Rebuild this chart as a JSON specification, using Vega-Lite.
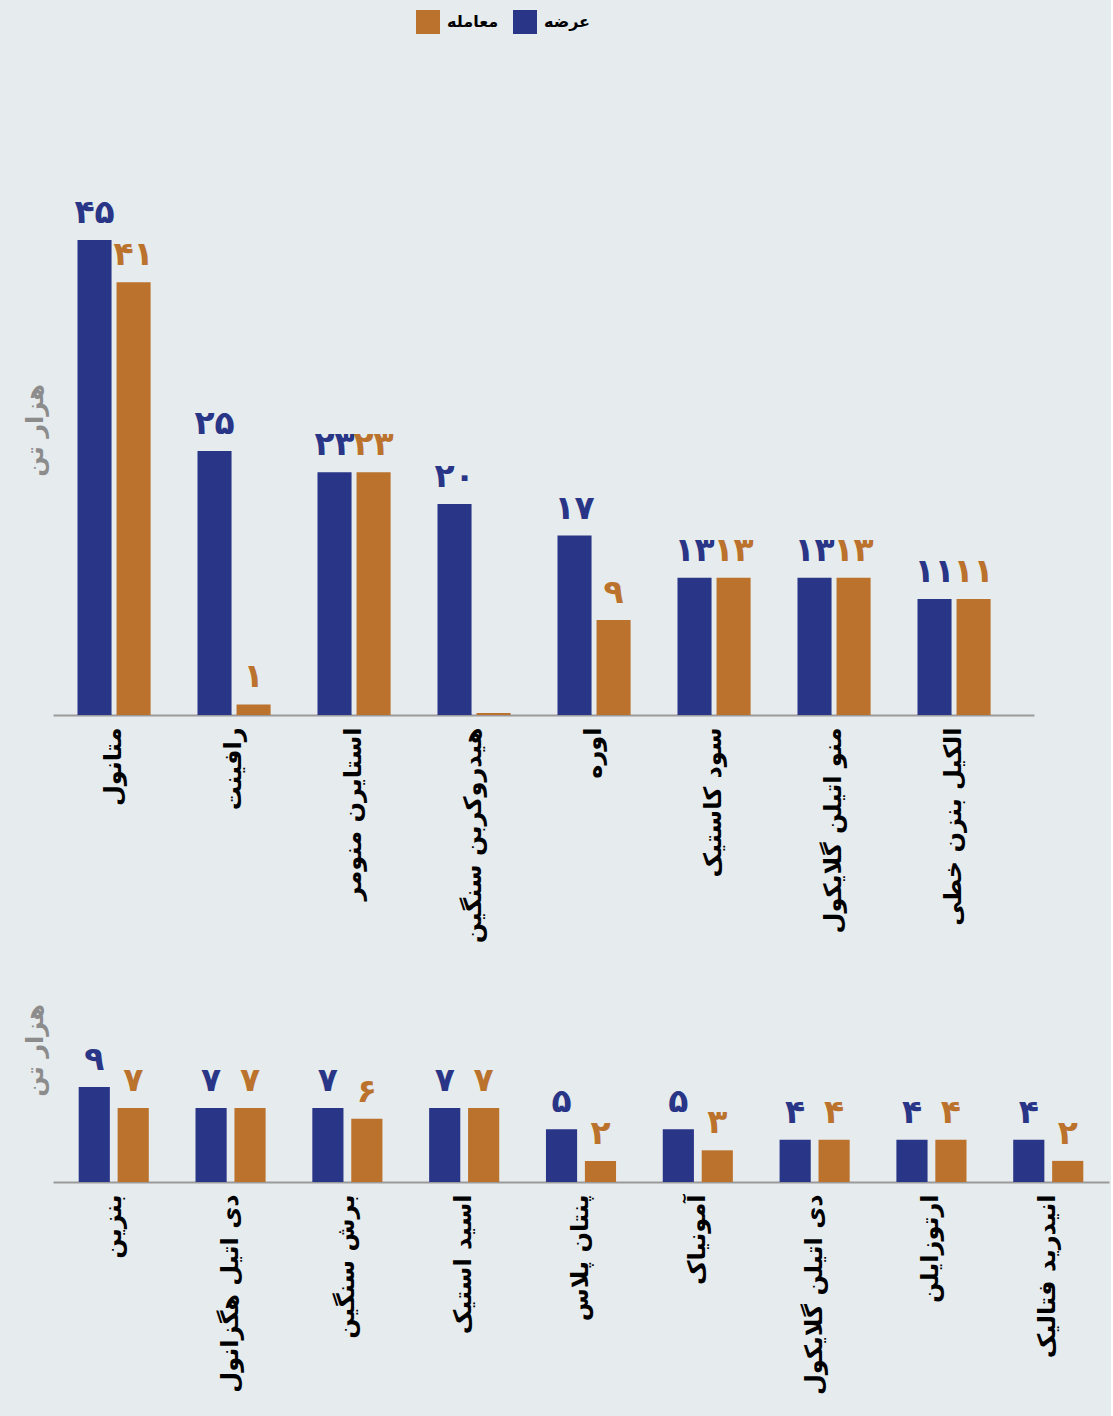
{
  "$schema": "https://vega.github.io/schema/vega-lite/v6.json",
  "background": "#E6EBED",
  "padding": {"left": 23, "top": 10, "right": 2, "bottom": 26},
  "bounds": "flush",
  "spacing": 203,
  "datasets": {
    "top": [
      {"product": "متانول", "type": "عرضه", "value": 45},
      {"product": "متانول", "type": "معامله", "value": 41},
      {"product": "رافینت", "type": "عرضه", "value": 25},
      {"product": "رافینت", "type": "معامله", "value": 1},
      {"product": "استایرن منومر", "type": "عرضه", "value": 23},
      {"product": "استایرن منومر", "type": "معامله", "value": 23},
      {"product": "هیدروکربن سنگین", "type": "عرضه", "value": 20},
      {"product": "هیدروکربن سنگین", "type": "معامله", "value": 0.2},
      {"product": "اوره", "type": "عرضه", "value": 17},
      {"product": "اوره", "type": "معامله", "value": 9},
      {"product": "سود کاستیک", "type": "عرضه", "value": 13},
      {"product": "سود کاستیک", "type": "معامله", "value": 13},
      {"product": "منو اتیلن گلایکول", "type": "عرضه", "value": 13},
      {"product": "منو اتیلن گلایکول", "type": "معامله", "value": 13},
      {"product": "الکیل بنزن خطی", "type": "عرضه", "value": 11},
      {"product": "الکیل بنزن خطی", "type": "معامله", "value": 11}
    ],
    "bottom": [
      {"product": "بنزین", "type": "عرضه", "value": 9},
      {"product": "بنزین", "type": "معامله", "value": 7},
      {"product": "دی اتیل هگزانول", "type": "عرضه", "value": 7},
      {"product": "دی اتیل هگزانول", "type": "معامله", "value": 7},
      {"product": "برش سنگین", "type": "عرضه", "value": 7},
      {"product": "برش سنگین", "type": "معامله", "value": 6},
      {"product": "اسید استیک", "type": "عرضه", "value": 7},
      {"product": "اسید استیک", "type": "معامله", "value": 7},
      {"product": "پنتان پلاس", "type": "عرضه", "value": 5},
      {"product": "پنتان پلاس", "type": "معامله", "value": 2},
      {"product": "آمونیاک", "type": "عرضه", "value": 5},
      {"product": "آمونیاک", "type": "معامله", "value": 3},
      {"product": "دی اتیلن گلایکول", "type": "عرضه", "value": 4},
      {"product": "دی اتیلن گلایکول", "type": "معامله", "value": 4},
      {"product": "ارتوزایلن", "type": "عرضه", "value": 4},
      {"product": "ارتوزایلن", "type": "معامله", "value": 4},
      {"product": "انیدرید فتالیک", "type": "عرضه", "value": 4},
      {"product": "انیدرید فتالیک", "type": "معامله", "value": 2}
    ]
  },
  "vconcat": [
    {
      "width": 981,
      "height": 570,
      "data": {"name": "top"},
      "encoding": {
        "x": {"field": "product", "type": "nominal", "sort": null,
              "scale": {"paddingInner": 0, "paddingOuter": 0.0875, "align": 0.05},
              "axis": {"title": null}},
        "xOffset": {"field": "type", "type": "nominal",
                    "scale": {"domain": ["عرضه", "معامله"], "paddingInner": 0.128, "paddingOuter": 0.6}},
        "y": {"field": "value", "type": "quantitative",
              "scale": {"domain": [0, 54], "nice": false},
              "axis": {"title": "هزار تن"}},
        "color": {"field": "type", "type": "nominal",
                  "scale": {"domain": ["معامله", "عرضه"], "range": ["#BB722C", "#293586"]},
                  "legend": {"title": null}}
      },
      "layer": [
        {"mark": {"type": "bar"}},
        {"transform": [{"filter": "datum.value >= 1"}],
         "mark": {"type": "text", "baseline": "bottom", "dy": -10, "fontSize": 33, "fontWeight": "bold"},
         "encoding": {"text": {"field": "value", "type": "quantitative", "format": "d"}}}
      ]
    },
    {
      "width": 1056,
      "height": 264,
      "data": {"name": "bottom"},
      "encoding": {
        "x": {"field": "product", "type": "nominal", "sort": null,
              "scale": {"paddingInner": 0, "paddingOuter": 0.02, "align": 0.5},
              "axis": {"title": null}},
        "xOffset": {"field": "type", "type": "nominal",
                    "scale": {"domain": ["عرضه", "معامله"], "paddingInner": 0.2, "paddingOuter": 0.6}},
        "y": {"field": "value", "type": "quantitative",
              "scale": {"domain": [0, 25], "nice": false},
              "axis": {"title": "هزار تن"}},
        "color": {"field": "type", "type": "nominal",
                  "scale": {"domain": ["معامله", "عرضه"], "range": ["#BB722C", "#293586"]},
                  "legend": {"title": null}}
      },
      "layer": [
        {"mark": {"type": "bar"}},
        {"transform": [{"filter": "datum.value >= 1"}],
         "mark": {"type": "text", "baseline": "bottom", "dy": -10, "fontSize": 33, "fontWeight": "bold"},
         "encoding": {"text": {"field": "value", "type": "quantitative", "format": "d"}}}
      ]
    }
  ],
  "resolve": {
    "scale": {"x": "independent", "y": "independent", "xOffset": "independent", "color": "shared"},
    "legend": {"color": "shared"}
  },
  "config": {
    "font": "DejaVu Sans",
    "locale": {
      "number": {
        "decimal": ".",
        "thousands": ",",
        "grouping": [3],
        "currency": ["", ""],
        "numerals": ["۰", "۱", "۲", "۳", "۴", "۵", "۶", "۷", "۸", "۹"]
      }
    },
    "view": {"stroke": null},
    "axisX": {
      "ticks": false,
      "grid": false,
      "domainColor": "#9A9A9A",
      "domainWidth": 2,
      "labelAngle": -90,
      "labelFontSize": 24,
      "labelFontWeight": "bold",
      "labelColor": "#000000",
      "labelPadding": 12,
      "labelLimit": 400
    },
    "axisY": {
      "domain": false,
      "ticks": false,
      "labels": false,
      "grid": false,
      "titleFontSize": 24,
      "titleFontWeight": "bold",
      "titleColor": "#8C8C8C",
      "titlePadding": 6
    },
    "legend": {
      "orient": "none",
      "legendX": 363,
      "legendY": -135,
      "direction": "horizontal",
      "symbolType": "square",
      "symbolSize": 576,
      "symbolStrokeWidth": 0,
      "symbolOpacity": 1,
      "labelFontSize": 16,
      "labelFontWeight": "bold",
      "labelColor": "#000000",
      "labelOffset": 7,
      "columnPadding": 14
    }
  }
}
